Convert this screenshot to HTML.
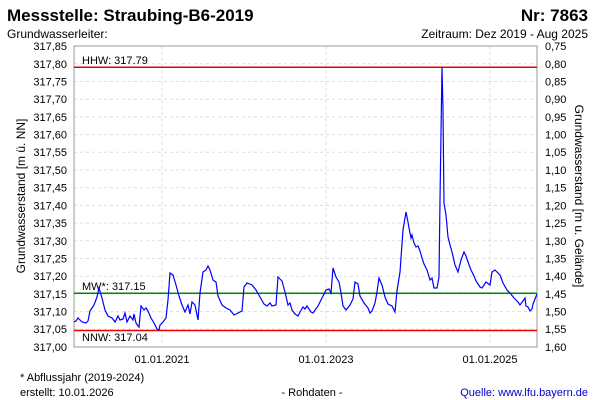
<!DOCTYPE html>
<html><head><meta charset="utf-8"><style>
html,body{margin:0;padding:0;background:#fff;}
svg{display:block;font-family:"Liberation Sans",sans-serif;}
</style></head><body>
<svg width="600" height="400" viewBox="0 0 600 400" xmlns="http://www.w3.org/2000/svg">
<rect width="600" height="400" fill="#fff"/>
<text x="7" y="21" font-size="17" font-weight="bold" fill="#000">Messstelle: Straubing-B6-2019</text>
<text x="588" y="21" font-size="17" font-weight="bold" fill="#000" text-anchor="end">Nr: 7863</text>
<text x="7" y="38" font-size="12" fill="#000">Grundwasserleiter:</text>
<text x="588" y="38" font-size="12" fill="#000" text-anchor="end">Zeitraum: Dez 2019 - Aug 2025</text>
<g stroke="#ddd" stroke-width="1" stroke-dasharray="3,3">
<line x1="74" x2="537" y1="63.8" y2="63.8"/><line x1="74" x2="537" y1="81.5" y2="81.5"/><line x1="74" x2="537" y1="99.2" y2="99.2"/><line x1="74" x2="537" y1="116.9" y2="116.9"/><line x1="74" x2="537" y1="134.6" y2="134.6"/><line x1="74" x2="537" y1="152.3" y2="152.3"/><line x1="74" x2="537" y1="170" y2="170"/><line x1="74" x2="537" y1="187.7" y2="187.7"/><line x1="74" x2="537" y1="205.4" y2="205.4"/><line x1="74" x2="537" y1="223.1" y2="223.1"/><line x1="74" x2="537" y1="240.8" y2="240.8"/><line x1="74" x2="537" y1="258.5" y2="258.5"/><line x1="74" x2="537" y1="276.2" y2="276.2"/><line x1="74" x2="537" y1="293.9" y2="293.9"/><line x1="74" x2="537" y1="311.6" y2="311.6"/><line x1="74" x2="537" y1="329.3" y2="329.3"/>
<line x1="162" x2="162" y1="46" y2="347"/><line x1="326" x2="326" y1="46" y2="347"/><line x1="490" x2="490" y1="46" y2="347"/>
</g>
<rect x="74" y="46" width="463" height="301" fill="none" stroke="#999" stroke-width="1"/>
<g font-size="11" fill="#000" text-anchor="end">
<text x="67" y="50">317,85</text><text x="67" y="68">317,80</text><text x="67" y="85.5">317,75</text><text x="67" y="103">317,70</text><text x="67" y="121">317,65</text><text x="67" y="138.5">317,60</text><text x="67" y="156">317,55</text><text x="67" y="174">317,50</text><text x="67" y="191.5">317,45</text><text x="67" y="209.5">317,40</text><text x="67" y="227">317,35</text><text x="67" y="245">317,30</text><text x="67" y="262.5">317,25</text><text x="67" y="280">317,20</text><text x="67" y="298">317,15</text><text x="67" y="315.5">317,10</text><text x="67" y="333">317,05</text><text x="67" y="351">317,00</text>
</g>
<g font-size="11" fill="#000">
<text x="545" y="50">0,75</text><text x="545" y="68">0,80</text><text x="545" y="85.5">0,85</text><text x="545" y="103">0,90</text><text x="545" y="121">0,95</text><text x="545" y="138.5">1,00</text><text x="545" y="156">1,05</text><text x="545" y="174">1,10</text><text x="545" y="191.5">1,15</text><text x="545" y="209.5">1,20</text><text x="545" y="227">1,25</text><text x="545" y="245">1,30</text><text x="545" y="262.5">1,35</text><text x="545" y="280">1,40</text><text x="545" y="298">1,45</text><text x="545" y="315.5">1,50</text><text x="545" y="333">1,55</text><text x="545" y="351">1,60</text>
</g>
<g font-size="11" fill="#000" text-anchor="middle">
<text x="162" y="363">01.01.2021</text><text x="326" y="363">01.01.2023</text><text x="490" y="363">01.01.2025</text>
</g>
<text transform="translate(25,196) rotate(-90)" font-size="12" text-anchor="middle" fill="#000">Grundwasserstand [m ü. NN]</text>
<text transform="translate(575,196) rotate(90)" font-size="12" text-anchor="middle" fill="#000">Grundwasserstand [m u. Gelände]</text>
<line x1="74" x2="537" y1="67.3" y2="67.3" stroke="#e00" stroke-width="1.5"/>
<line x1="74" x2="537" y1="293.2" y2="293.2" stroke="#080" stroke-width="1.5"/>
<line x1="74" x2="537" y1="330.5" y2="330.5" stroke="#e00" stroke-width="1.5"/>
<g font-size="11" fill="#000">
<text x="82" y="64">HHW: 317.79</text>
<text x="82" y="290">MW*: 317.15</text>
<text x="82" y="341">NNW: 317.04</text>
</g>
<polyline fill="none" stroke="#00f" stroke-width="1.2" points="74,322 76,321 78,318 80,320 82,322 86,323 88,321 90,311 94,305 97,297 99,288 102,298 105,310 108,316 112,318 115,322 118,316 120,320 123,319 125,313 127,322 130,316 133,320 134,314 136,323 138,326 139,327 141,306 144,310 146,308 148,311 151,318 154,323 157,329 159,330 160,325 163,322 166,318 168,300 170,273 173,275 176,285 179,296 182,305 185,312 188,305 190,314 192,302 195,305 198,320 200,293 203,272 206,270 208,266 210,270 213,280 216,282 218,296 222,305 226,308 230,310 234,315 238,313 242,311 244,287 247,283 252,285 256,290 260,297 264,304 267,306 270,303 272,306 276,305 278,277 282,281 285,292 288,305 290,303 292,310 295,314 298,316 300,312 303,307 305,309 307,306 311,312 313,313 318,306 323,296 326,290 329,289 331,293 333,268 336,277 339,282 341,293 343,306 346,310 350,305 353,299 355,282 358,284 360,296 364,303 368,308 370,313 372,311 375,303 377,292 379,278 382,285 385,297 388,304 392,306 395,312 397,291 400,272 403,230 405,218 406,212 408,222 409,228 411,238 412,235 414,243 416,247 418,246 420,251 422,258 424,264 427,270 430,280 432,278 434,288 437,288 439,277 440,200 442,67 443,110 444,203 446,215 448,237 450,245 452,252 455,265 458,272 461,260 464,252 466,256 468,262 471,270 474,276 476,281 480,287 482,288 486,282 490,285 492,272 495,270 498,273 500,275 503,283 507,290 510,293 514,298 518,302 520,305 523,301 525,298 526,306 528,307 530,311 532,309 533,304 535,299 537,294"/>
<g font-size="11" fill="#000">
<text x="20" y="381">* Abflussjahr (2019-2024)</text>
<text x="20" y="396">erstellt:  10.01.2026</text>
<text x="312" y="396" text-anchor="middle">- Rohdaten -</text>
</g>
<text x="588" y="396" font-size="11" fill="#00c" text-anchor="end">Quelle: www.lfu.bayern.de</text>
</svg>
</body></html>
